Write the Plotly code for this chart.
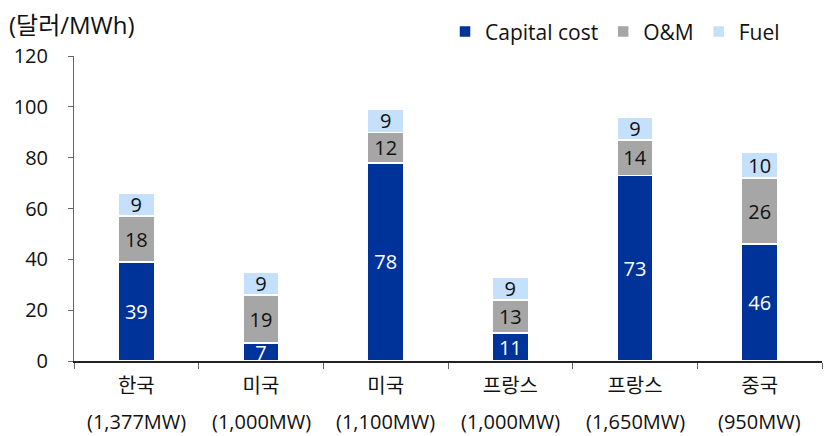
import plotly.graph_objects as go

countries = ["한국", "미국", "미국", "프랑스", "프랑스", "중국"]
capacities = ["(1,377MW)", "(1,000MW)", "(1,100MW)", "(1,000MW)", "(1,650MW)", "(950MW)"]
capital = [39, 7, 78, 11, 73, 46]
om = [18, 19, 12, 13, 14, 26]
fuel = [9, 9, 9, 9, 9, 10]

x_keys = [f"{c} {m}" for c, m in zip(countries, capacities)]

FONT = "Open Sans, Noto Sans CJK KR"
series = [
    ("Capital cost", capital, "#003399", "white"),
    ("O&M", om, "#a6a6a6", "#111111"),
    ("Fuel", fuel, "#c5e0fb", "#111111"),
]

fig = go.Figure()
for name, vals, color, tcolor in series:
    fig.add_trace(go.Bar(
        name=name, x=x_keys, y=vals,
        marker=dict(color=color, line=dict(color="white", width=1.5)),
        text=[str(v) for v in vals], textposition="inside", textangle=0,
        insidetextanchor="middle", constraintext="none",
        textfont=dict(family=FONT, size=20, color=tcolor),
        cliponaxis=False,
    ))

annotations = [dict(text="(달러/MWh)", xref="paper", yref="paper", x=-0.09, y=1.102,
                    xanchor="left", yanchor="middle", showarrow=False,
                    font=dict(family=FONT, size=24, color="#111111"))]
for key, cap in zip(x_keys, capacities):
    annotations.append(dict(text=cap, xref="x", yref="paper", x=key, y=-0.197,
                            xanchor="center", yanchor="middle", showarrow=False,
                            font=dict(family=FONT, size=20, color="#111111")))

fig.update_layout(
    barmode="stack", bargap=0.71,
    width=825, height=436,
    margin=dict(l=74, r=3, t=56, b=75, autoexpand=False),
    paper_bgcolor="white", plot_bgcolor="white",
    font=dict(family=FONT, size=20, color="#111111"),
    showlegend=True,
    legend=dict(orientation="h", x=0.496, y=1.079, xanchor="left", yanchor="middle",
                font=dict(family=FONT, size=21), itemwidth=30, traceorder="normal",
                bgcolor="rgba(0,0,0,0)"),
    annotations=annotations,
)
fig.update_yaxes(range=[0, 120], dtick=20, showgrid=False, showline=True,
                 linecolor="#666666", linewidth=1, ticks="outside", ticklen=5,
                 tickcolor="#666666", zeroline=False, tickfont=dict(size=20),
                 ticklabelstandoff=16)
fig.update_xaxes(showline=True, linecolor="#222222", linewidth=1.5, ticks="outside",
                 tickson="boundaries", ticklen=6, tickcolor="#666666",
                 tickmode="array", tickvals=x_keys, ticktext=countries,
                 tickfont=dict(size=20), ticklabelstandoff=6)

fig.write_html("out.html")
